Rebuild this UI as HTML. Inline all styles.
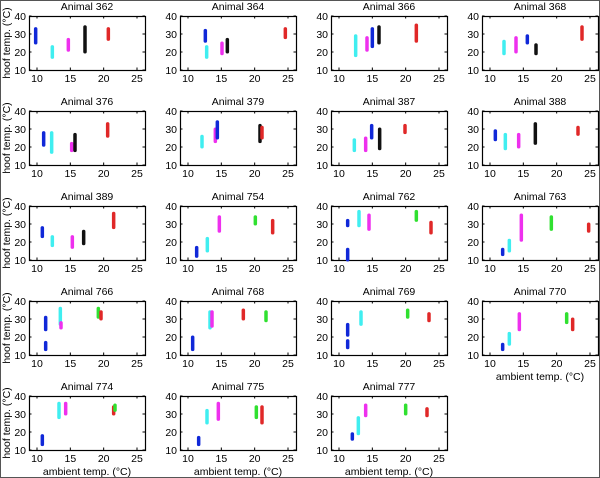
<!DOCTYPE html>
<html><head><meta charset="utf-8">
<style>
html,body{margin:0;padding:0;background:#fff;}
svg{display:block;font-family:"Liberation Sans",Arial,sans-serif;}
</style></head>
<body>
<svg id="chart" width="600" height="478" viewBox="0 0 600 478" xmlns="http://www.w3.org/2000/svg">
<rect x="0.5" y="0.5" width="599" height="477" fill="#fff" stroke="#555"/>
</svg>
<script>
const panelNames = ["362","364","366","368","376","379","387","388","389","754","762","763","766","768","769","770","774","775","777"];
const xTicks = [10,15,20,25];
const yTicks = [10,20,30,40];
// each group: panel index, color, ambient x, hoof low, hoof high
const groupPanel = [0,0,0,0,0, 1,1,1,1,1, 2,2,2,2,2, 3,3,3,3,3, 4,4,4,4,4, 5,5,5,5,5, 6,6,6,6,6, 7,7,7,7,7, 8,8,8,8,8, 9,9,9,9,9, 10,10,10,10,10,10, 11,11,11,11,11, 12,12,12,12,12,12, 13,13,13,13,13, 14,14,14,14,14, 15,15,15,15,15, 16,16,16,16,16, 17,17,17,17,17, 18,18,18,18,18];
const groupColor = ["b","c","m","k","r", "b","c","m","k","r", "c","m","b","k","r", "c","m","b","k","r", "b","c","m","k","r", "c","m","b","k","r", "c","m","b","k","r", "b","c","m","k","r", "b","c","m","k","r", "b","c","m","g","r", "b","b","c","m","g","r", "b","c","m","g","r", "b","b","c","m","g","r", "b","c","m","r","g", "b","b","c","g","r", "b","c","m","g","r", "b","c","m","r","g", "b","c","m","g","r", "b","c","m","g","r"];
const groupX = [9.8,12.3,14.7,17.2,20.7, 12.6,12.8,15.1,15.9,24.6, 12.5,14.2,15.0,16.0,21.6, 12.1,13.9,15.6,16.9,23.8, 11.0,12.2,15.2,15.7,20.6, 12.1,14.1,14.4,20.8,21.1, 12.3,14.0,14.9,16.1,19.9, 10.8,12.3,14.3,16.8,23.2, 10.8,12.3,15.3,17.0,21.5, 11.3,12.9,14.7,20.1,22.7, 11.3,11.3,13.0,14.5,21.6,23.8, 11.9,12.9,14.7,19.2,24.8, 11.3,11.3,13.5,13.6,19.2,19.6, 10.7,13.3,13.6,18.3,21.7, 11.3,11.3,13.3,20.3,23.5, 11.9,12.9,14.4,21.5,22.4, 10.8,13.3,14.3,21.5,21.7, 11.6,12.85,14.55,20.25,21.1, 12.0,12.9,14.0,20.0,23.2];
const groupLow = [25,17,21,20,27, 26,17,19,20,28, 18,21,23,25,26, 19,20,25,19,27, 21,17,18,18,26, 20,23,25,23,25, 18,18,25,19,28, 24,19,20,22,27, 23,18,17,19,28, 12,15,26,30,25, 29,10,29,27,32,25, 13,15,21,27,26, 13,24,27,25,31,30, 13,25,26,30,29, 21,14,27,31,29, 13,16,24,28,24, 13,28,30,30,32, 13,25,27,28,25, 16,19,29,30,29];
const groupHigh = [33,23,27,34,33, 32,23,25,27,33, 29,28,33,34,35, 26,28,29,24,34, 28,28,22,27,33, 26,30,34,32,31, 24,25,32,30,32, 29,27,27,33,31, 28,23,23,26,36, 17,22,34,34,32, 32,16,37,35,37,31, 16,21,35,34,30, 17,31,36,28,36,34, 20,34,34,35,34, 27,18,34,35,33, 16,22,33,33,30, 18,36,36,34,35, 17,32,36,34,34, 19,28,35,35,33];

const colors = {b:"#1028d8", c:"#40eef0", m:"#ee30ee", k:"#111111", r:"#e02828", g:"#30e030"};
const NS = "http://www.w3.org/2000/svg";
const svg = document.getElementById("chart");
const colLeft = [29,180,331,482], W = 116, H = 54, rowTop0 = 16, rowPitch = 95;
const xMin = 8.8, xMax = 26.2, yMin = 10, yMax = 40;
function mk(tag, attrs, parent){ const e=document.createElementNS(NS,tag); for(const k in attrs) e.setAttribute(k,attrs[k]); (parent||svg).appendChild(e); return e; }
function panelPos(i){ return {x0: colLeft[i%4], y0: rowTop0 + rowPitch*Math.floor(i/4)}; }
function xScale(i,v){ const p=panelPos(i); return p.x0 + (v-xMin)/(xMax-xMin)*W; }
function yScale(i,v){ const p=panelPos(i); return p.y0 + H - (v-yMin)/(yMax-yMin)*H; }

panelNames.forEach((nm,i)=>{
  const p = panelPos(i);
  const g = mk("g",{});
  
  
  const box = mk("rect",{x:p.x0+0.5,y:p.y0+0.5,width:W,height:H,fill:"#fff",stroke:"#000","stroke-width":1.2},g);
  
  
  const t = mk("text",{x:p.x0+W/2,y:p.y0-6,"text-anchor":"middle","font-size":"10.5"},g);
  t.textContent = "Animal "+nm;
  
  
  xTicks.forEach(v=>{
    const x = xScale(i,v);
    mk("line",{x1:x,x2:x,y1:p.y0+H,y2:p.y0+H-2.5,stroke:"#000"},g);
    mk("line",{x1:x,x2:x,y1:p.y0,y2:p.y0+2.5,stroke:"#000"},g);
    const l = mk("text",{x:x,y:p.y0+H+12,"text-anchor":"middle","font-size":"10.5"},g);
    l.textContent = v;
    
    
  });
  yTicks.forEach(v=>{
    const y = yScale(i,v);
    mk("line",{x1:p.x0,x2:p.x0+2.5,y1:y,y2:y,stroke:"#000"},g);
    mk("line",{x1:p.x0+W,x2:p.x0+W-2.5,y1:y,y2:y,stroke:"#000"},g);
    const l = mk("text",{x:p.x0-3,y:y+4,"text-anchor":"end","font-size":"10.5"},g);
    l.textContent = v;
    
    
  });
  if(i%4===0){
    const cy = p.y0+H/2;
    const yl = mk("text",{x:10,y:cy,"text-anchor":"middle","font-size":"10.5",transform:"rotate(-90 10 "+cy+")"},g);
    yl.textContent = "hoof temp. (°C)";
    
    
  }
  if(i>=16 || i===15){
    const xl = mk("text",{x:p.x0+W/2,y:p.y0+H+25,"text-anchor":"middle","font-size":"10.5"},g);
    xl.textContent = "ambient temp. (°C)";
    
    
  }
});

groupPanel.forEach((pi,j)=>{
  const x = xScale(pi, groupX[j]);
  const y1 = yScale(pi, groupHigh[j]), y2 = yScale(pi, groupLow[j]);
  const r = mk("rect",{x:x-1.75,y:y1-1.5,width:3.5,height:(y2-y1)+3,rx:1.75,fill:colors[groupColor[j]]});
  
  
});
</script>
</body></html>
